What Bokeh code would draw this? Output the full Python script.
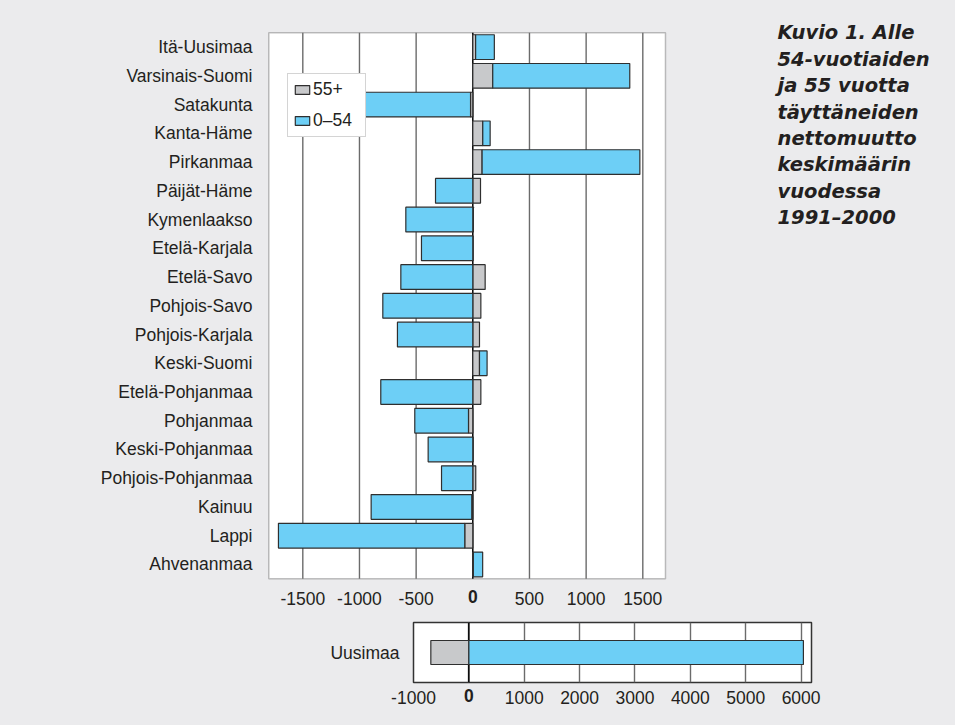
import numpy as np
from bokeh.plotting import figure
from bokeh.models import (ColumnDataSource, Range1d, FactorRange, Span, Label, LinearAxis,
                          Legend, LegendItem, FixedTicker, BoxAnnotation)
from bokeh.embed import file_html
from bokeh.resources import INLINE

# ---------------- data ----------------
regions = ["Itä-Uusimaa", "Varsinais-Suomi", "Satakunta", "Kanta-Häme", "Pirkanmaa",
           "Päijät-Häme", "Kymenlaakso", "Etelä-Karjala", "Etelä-Savo", "Pohjois-Savo",
           "Pohjois-Karjala", "Keski-Suomi", "Etelä-Pohjanmaa", "Pohjanmaa",
           "Keski-Pohjanmaa", "Pohjois-Pohjanmaa", "Kainuu", "Lappi", "Ahvenanmaa"]
age_55plus = [25, 176, -20, 88, 82, 68, 5, 2, 109, 71, 59, 59, 71, -38, 3, 26, -9, -71, 5]
age_0_54 = [165, 1209, -1068, 65, 1392, -329, -591, -453, -635, -794, -665, 67, -812,
            -474, -394, -276, -888, -1644, 82]
main_ticks = [-1500, -1000, -500, 0, 500, 1000, 1500]
main_limits = [-1800, 1700]

uusimaa = ["Uusimaa"]
uusimaa_55plus = [-687]
uusimaa_0_54 = [6042]
uusimaa_ticks = [-1000, 0, 1000, 2000, 3000, 4000, 5000, 6000]

series_labels = ["55+", "0–54"]
title_lines = ["Kuvio 1. Alle", "54-vuotiaiden", "ja 55 vuotta", "täyttäneiden",
               "nettomuutto", "keskimäärin", "vuodessa", "1991–2000"]

# ---------------- style ----------------
BG = "#ebebed"
GRAY = "#c8c9cb"
BLUE = "#6dcff6"
EDGE = "#2f2f2f"
TXT = "#231f20"
GRID = "#6b6b6b"
FONT = "Liberation Sans"
FSIZE = "17.5px"


def stack(g, b):
    g = np.asarray(g, float)
    b = np.asarray(b, float)
    same = np.sign(g) == np.sign(b)
    b_start = np.where(same, g, 0.0)
    b_end = b_start + b
    return (np.minimum(g, 0), np.maximum(g, 0),
            np.minimum(b_start, b_end), np.maximum(b_start, b_end))


def style_axis(ax, standoff, bold=False):
    ax.axis_line_color = None
    ax.major_tick_line_color = None
    ax.minor_tick_line_color = None
    ax.major_tick_out = 0
    ax.major_tick_in = 0
    ax.minor_tick_out = 0
    ax.major_label_text_font = FONT
    ax.major_label_text_font_size = FSIZE
    ax.major_label_text_color = TXT
    ax.major_label_standoff = standoff
    if bold:
        ax.major_label_text_font_style = "bold"


def add_x_axes(fig, ticks, standoff, label_h=14):
    # zero label in bold on its own axis, the others on a second axis overlapping the same row
    zero_ax = LinearAxis(ticker=FixedTicker(ticks=[t for t in ticks if t == 0]))
    style_axis(zero_ax, standoff, bold=True)
    other = [t for t in ticks if t != 0]
    rest_ax = LinearAxis(ticker=FixedTicker(ticks=other),
                         major_label_overrides={t: str(t) for t in other})
    style_axis(rest_ax, -label_h)
    fig.add_layout(zero_ax, "below")
    fig.add_layout(rest_ax, "below")


# ---------------- main chart ----------------
n = len(regions)
ypos = [n - 1 - i for i in range(n)]
gl, gr, bl, br = stack(age_55plus, age_0_54)
src = ColumnDataSource(dict(y=ypos, gl=gl, gr=gr, bl=bl, br=br))

p = figure(width=947, height=610, output_backend="svg", toolbar_location=None,
           x_range=Range1d(-1811.5, 4188.5), y_range=Range1d(-0.559, 19.344),
           x_axis_location=None,
           min_border_left=267, min_border_right=0, min_border_top=8,
           min_border_bottom=30)
p.background_fill_color = BG
p.border_fill_color = BG
p.outline_line_color = None
p.xgrid.grid_line_color = None
p.ygrid.grid_line_color = None

style_axis(p.yaxis[0], 15)
p.yaxis.ticker = FixedTicker(ticks=ypos)
p.yaxis.major_label_overrides = {y: name for y, name in zip(ypos, regions)}
add_x_axes(p, main_ticks, 9)

# white plot area with its frame
p.add_layout(BoxAnnotation(left=main_limits[0], right=main_limits[1], bottom=-0.5,
                           top=n - 0.5, fill_color="white", fill_alpha=1,
                           line_color="#333333", line_width=1.5, level="image"))
# grid lines and zero line
grid_src = ColumnDataSource(dict(x=[t for t in main_ticks if t != 0],
                                 y0=[-0.5] * (len(main_ticks) - 1),
                                 y1=[n - 0.5] * (len(main_ticks) - 1)))
p.segment(x0="x", x1="x", y0="y0", y1="y1", source=grid_src, line_color=GRID, line_width=1.4)
p.segment(x0=[0], x1=[0], y0=[-0.5], y1=[n - 0.5], line_color="black", line_width=1.5)

r_g = p.hbar(y="y", left="gl", right="gr", height=0.86, source=src,
             fill_color=GRAY, line_color=EDGE, line_width=1.2)
r_b = p.hbar(y="y", left="bl", right="br", height=0.86, source=src,
             fill_color=BLUE, line_color=EDGE, line_width=1.2)

legend = Legend(items=[LegendItem(label=series_labels[0], renderers=[r_g]),
                       LegendItem(label=series_labels[1], renderers=[r_b])],
                location=(20, 443), padding=5, spacing=10, margin=0,
                glyph_width=18, glyph_height=11, label_height=18, label_width=47,
                label_standoff=2, label_text_font=FONT, label_text_font_size=FSIZE,
                label_text_color=TXT, border_line_color="#aaaaaa", border_line_width=1,
                background_fill_color="white", background_fill_alpha=1)
p.add_layout(legend)

for i, line in enumerate(title_lines):
    p.add_layout(Label(x=510, y=580 - (32.3 + 26.43 * i), x_units="screen", y_units="screen",
                       text=line, text_align="left", text_baseline="alphabetic",
                       text_font="DejaVu Sans", text_font_style="bold italic",
                       text_font_size="19.5px", text_color=TXT))

# ---------------- Uusimaa chart ----------------
ugl, ugr, ubl, ubr = stack(uusimaa_55plus, uusimaa_0_54)
usrc = ColumnDataSource(dict(y=uusimaa, gl=ugl, gr=ugr, bl=ubl, br=ubr))

q = figure(width=836, height=104, output_backend="svg", toolbar_location=None,
           y_range=FactorRange(factors=uusimaa), x_range=Range1d(-1000, 6188),
           x_axis_location=None,
           min_border_left=413, min_border_right=25, min_border_top=12,
           min_border_bottom=32)
q.background_fill_color = "white"
q.border_fill_color = BG
q.outline_line_color = "#333333"
q.outline_line_width = 1.5
q.xgrid.ticker = FixedTicker(ticks=uusimaa_ticks)
q.xgrid.grid_line_color = GRID
q.xgrid.grid_line_width = 1.4
q.ygrid.grid_line_color = None
style_axis(q.yaxis[0], 14)
add_x_axes(q, uusimaa_ticks, 6)
q.add_layout(Span(location=0, dimension="height", line_color="black", line_width=1.5,
                  level="underlay"))
q.hbar(y="y", left="gl", right="gr", height=0.4, source=usrc,
       fill_color=GRAY, line_color=EDGE, line_width=1.2)
q.hbar(y="y", left="bl", right="br", height=0.4, source=usrc,
       fill_color=BLUE, line_color=EDGE, line_width=1.2)

html = file_html([p, q], INLINE)
html = html.replace("</head>", "<style>html, body {background-color: %s;}</style></head>" % BG, 1)
open("out.html", "w").write(html)
